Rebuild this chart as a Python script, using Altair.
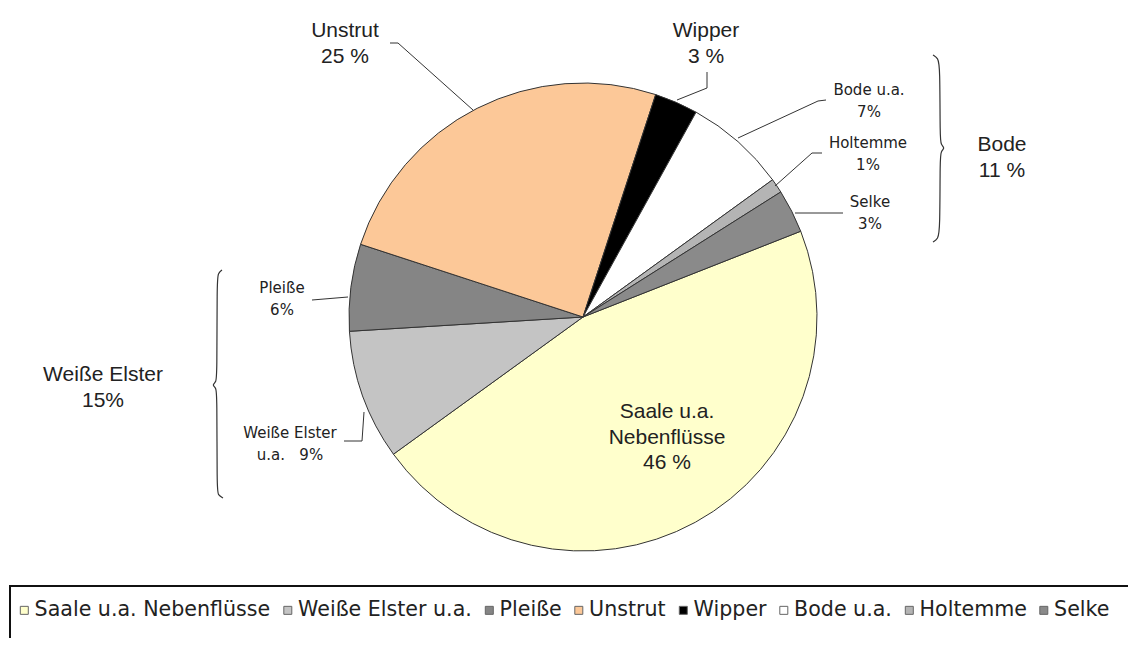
import math
import altair as alt
import pandas as pd

# ---------------- data ----------------
categories = ["Saale u.a. Nebenflüsse", "Weiße Elster u.a.", "Pleiße", "Unstrut",
              "Wipper", "Bode u.a.", "Holtemme", "Selke"]
shares = [46, 9, 6, 25, 3, 7, 1, 3]
colors = ["#FFFFCC", "#C4C4C4", "#858585", "#FCC898", "#000000", "#FFFFFF", "#B4B4B4", "#8A8A8A"]

big_labels = ["Unstrut\n25 %", "Wipper\n3 %", "Bode\n11 %", "Weiße Elster\n15%",
              "Saale u.a.\nNebenflüsse\n46 %"]
small_labels = ["Bode u.a.\n7%", "Holtemme\n1%", "Selke\n3%", "Pleiße\n6%",
                "Weiße Elster\nu.a.\u00a0\u00a0 9%"]

# ---------------- layout (page pixels) ----------------
M = 8
W, H = 1120, 630
CX, CY, R = 583, 317, 234
START = math.radians(68.5)

# position of the first line of each label
big_pos = [(345, 31), (706, 31), (1002, 145), (103, 375), (667, 412)]
small_pos = [(869, 90), (868, 143), (870, 202), (282, 288), (290, 433)]

leaders = {
    "Unstrut": [(390, 43), (398, 43), (473, 110)],
    "Wipper": [(707, 72), (707, 88), (677, 100)],
    "Bode": [(738, 138), (818, 101), (826, 100)],
    "Holtemme": [(775, 186), (812, 153), (822, 153)],
    "Selke": [(795, 213), (843, 213)],
    "Pleisse": [(312, 300), (348, 297)],
    "WE": [(344, 441), (362, 441), (364, 412)],
}
braces = {
    "Bode": [(933, 55), (938, 58), (940, 66), (940, 138), (941, 145), (945, 148), (941, 151),
             (940, 158), (940, 230), (938, 239), (933, 242)],
    "WE": [(222, 270), (218, 273), (217, 282), (217, 377), (216, 382), (212, 385), (216, 388),
           (217, 393), (217, 490), (218, 495), (223, 498)],
}

df = pd.DataFrame({"cat": categories, "value": shares, "idx": list(range(len(categories)))})

def rows(d):
    out = []
    for k, pts in d.items():
        for i, (x, y) in enumerate(pts):
            out.append({"id": k, "seq": i, "x": x - M, "y": y - M})
    return pd.DataFrame(out)

lead_df = rows(leaders)
brace_df = rows(braces)
big_df = pd.DataFrame({"t": big_labels, "x": [p[0] - M for p in big_pos], "y": [p[1] - M for p in big_pos]})
small_df = pd.DataFrame({"t": small_labels, "x": [p[0] - M for p in small_pos], "y": [p[1] - M for p in small_pos]})

pie = alt.Chart(df).mark_arc(outerRadius=R, stroke="#333333", strokeWidth=1).encode(
    theta=alt.Theta("value:Q", stack=True, scale=alt.Scale(range=[START, START + 2 * math.pi])),
    order=alt.Order("idx:Q"),
    color=alt.Color(
        "cat:N",
        scale=alt.Scale(domain=categories, range=colors),
        legend=alt.Legend(
            orient="none", legendX=6, legendY=592, direction="horizontal", columns=8,
            title=None, symbolType="square", symbolSize=64, symbolStrokeColor="#666666",
            symbolStrokeWidth=1, labelFont="DejaVu Sans", labelFontSize=20.6, labelColor="#222222",
            columnPadding=6.5, labelOffset=0, labelLimit=400, padding=0,
        ),
    ),
    x=alt.value(CX - M),
    y=alt.value(CY - M),
)

lead = alt.Chart(lead_df).mark_line(color="#333333", strokeWidth=1).encode(
    x=alt.X("x:Q", scale=None), y=alt.Y("y:Q", scale=None),
    detail="id:N", order="seq:Q",
)
brace = alt.Chart(brace_df).mark_line(color="#333333", strokeWidth=1.2, interpolate="basis").encode(
    x=alt.X("x:Q", scale=None), y=alt.Y("y:Q", scale=None),
    detail="id:N", order="seq:Q",
)

big = alt.Chart(big_df).mark_text(
    font="Liberation Sans", fontSize=21, lineBreak="\n", lineHeight=25.5,
    align="center", baseline="middle", color="#222222",
).encode(x=alt.X("x:Q", scale=None), y=alt.Y("y:Q", scale=None), text="t:N")

small = alt.Chart(small_df).mark_text(
    font="DejaVu Sans", fontSize=15, lineBreak="\n", lineHeight=21.5,
    align="center", baseline="middle", color="#222222",
).encode(x=alt.X("x:Q", scale=None), y=alt.Y("y:Q", scale=None), text="t:N")

frame = alt.Chart(pd.DataFrame({"a": [0]})).mark_rect(
    fill=None, stroke="#111111", strokeWidth=2
).encode(x=alt.value(10 - M), x2=alt.value(W + 20), y=alt.value(586 - M), y2=alt.value(H + 20))

chart = alt.layer(frame, pie, lead, brace, big, small).properties(
    width=W, height=H, autosize="none", padding=0
).configure_view(stroke=None)

chart.save("out.html", embed_options={"renderer": "svg", "actions": False})
